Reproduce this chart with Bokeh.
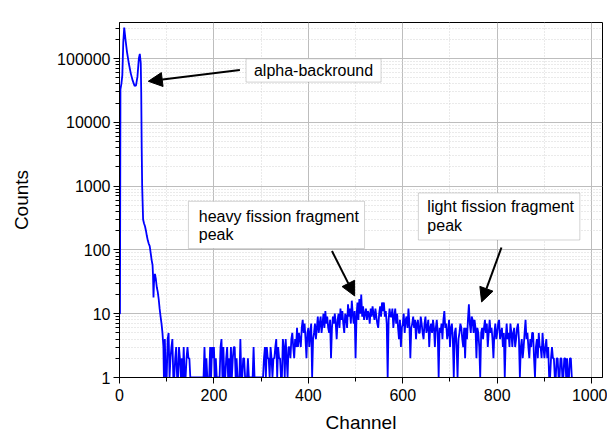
from bokeh.plotting import figure
from bokeh.models import (Range1d, FixedTicker, PrintfTickFormatter, BoxAnnotation,
                          Label, Arrow, NormalHead)
from bokeh.embed import file_html
from bokeh.resources import INLINE

# ---- data ----
peak_channels = [0, 1, 2, 4, 6, 8, 10, 13, 16, 20, 24, 28, 32, 35, 38, 41, 43, 45, 46, 47,
                 48, 50, 52, 54, 56, 58, 60, 62, 64, 66, 68, 70, 71, 72, 73, 75, 77, 79,
                 81, 83, 85, 87, 89, 91, 93, 94]
peak_counts = [10, 10, 33000, 40000, 55000, 180000, 305000, 190000, 125000, 82000, 58000,
               45000, 37000, 38000, 52000, 100000, 118000, 85000, 30000, 4000,
               1000, 300, 260, 235, 200, 165, 140, 125, 115, 90, 70, 58, 40, 18, 30, 42,
               35, 26, 22, 17, 12, 9, 7, 5, 3, 1]

tail_first_channel = 96
tail_channel_step = 2
tail_counts = [
    4, 1, 1, 4, 5, 1, 2, 3, 4, 1, 1, 2, 3, 1, 1, 3, 2, 1, 2, 1,
    3, 1, 1, 2, 3, 2, 2, 1, 1, 1, 1, 1, 1, 1, 1, 1, 1, 1, 1, 1,
    1, 1, 3, 1, 2, 1, 1, 1, 3, 1, 3, 2, 3, 1, 2, 1, 1, 1, 1, 3,
    4, 1, 3, 1, 1, 2, 3, 1, 2, 1, 3, 1, 2, 3, 3, 1, 2, 1, 1, 1,
    4, 1, 1, 2, 2, 1, 1, 1, 2, 1, 1, 1, 1, 1, 3, 1, 1, 1, 1, 1,
    1, 1, 1, 1, 1, 2, 3, 1, 3, 2, 2, 1, 3, 2, 1, 2, 2, 3, 4, 1,
    3, 2, 2, 1, 1, 4, 3, 1, 4, 2, 1, 3, 3, 2, 4, 5, 3, 2, 4, 3,
    6, 3, 5, 4, 3, 6, 8, 5, 7, 4, 2, 5, 6, 3, 5, 7, 1, 4, 5, 7,
    4, 6, 9, 5, 7, 9, 5, 7, 10, 6, 11, 7, 9, 6, 5, 8, 2, 6, 9, 7,
    10, 7, 4, 8, 10, 6, 12, 8, 11, 7, 5, 10, 9, 6, 14, 9, 12, 7, 16, 10,
    7, 11, 2, 9, 15, 8, 17, 10, 20, 9, 13, 8, 10, 12, 8, 11, 10, 7, 12, 9,
    13, 10, 8, 12, 9, 7, 6, 10, 13, 9, 15, 11, 15, 9, 11, 7, 1, 8, 12, 9,
    9, 12, 6, 9, 12, 7, 10, 6, 4, 8, 3, 6, 7, 10, 5, 8, 9, 6, 12, 7,
    2, 6, 7, 9, 6, 8, 4, 7, 8, 5, 5, 9, 7, 5, 4, 7, 9, 5, 6, 8,
    3, 6, 7, 5, 8, 6, 3, 6, 8, 5, 1, 6, 5, 7, 4, 8, 11, 6, 7, 4,
    5, 8, 3, 6, 7, 4, 1, 5, 6, 3, 1, 4, 5, 7, 6, 4, 3, 6, 2, 6,
    4, 8, 14, 7, 5, 9, 8, 5, 8, 6, 2, 6, 5, 3, 1, 5, 6, 4, 6, 8,
    5, 7, 3, 5, 8, 5, 6, 4, 2, 5, 7, 4, 5, 7, 8, 4, 5, 6, 3, 5,
    1, 4, 7, 4, 5, 3, 7, 5, 3, 5, 6, 3, 4, 6, 7, 4, 1, 3, 4, 2,
    3, 5, 8, 4, 5, 3, 2, 4, 3, 5, 5, 2, 1, 3, 4, 2, 5, 3, 3, 2,
    5, 3, 2, 3, 4, 2, 3, 1, 1, 2, 3, 2, 2, 1, 1, 2, 2, 1, 1, 2,
    2, 1, 1, 2, 2, 1, 2, 1, 1, 2, 2, 1, 1,
]

x_major_ticks = [0, 200, 400, 600, 800, 1000]
x_minor_ticks = [100, 300, 500, 700, 900]
y_major_ticks = [1, 10, 100, 1000, 10000, 100000]
y_minor_ticks = [m * 10 ** k for k in range(6) for m in range(2, 10)]

tail_channels = list(range(tail_first_channel,
                           tail_first_channel + tail_channel_step * len(tail_counts),
                           tail_channel_step))
channels = peak_channels + tail_channels
counts = peak_counts + tail_counts

FONT = "Liberation Sans"

p = figure(width=607, height=435, output_backend="svg", toolbar_location=None,
           y_axis_type="log",
           x_range=Range1d(0, 1023), y_range=Range1d(1, 3.67e5),
           min_border_left=119, min_border_right=5, min_border_top=22,
           min_border_bottom=56)

p.outline_line_color = "black"
p.outline_line_width = 1
p.background_fill_color = "white"
p.border_fill_color = "white"

p.line(channels, counts, line_color="#0000ff", line_width=1.8)

# axes
p.xaxis.ticker = FixedTicker(ticks=x_major_ticks, minor_ticks=x_minor_ticks)
p.yaxis.ticker = FixedTicker(ticks=y_major_ticks, minor_ticks=y_minor_ticks)
p.yaxis.formatter = PrintfTickFormatter(format="%d")
for ax in (p.xaxis[0], p.yaxis[0]):
    ax.major_label_text_font = FONT
    ax.major_label_text_font_size = "16px"
    ax.major_label_text_color = "black"
    ax.axis_label_text_font = FONT
    ax.axis_label_text_font_size = "19px"
    ax.axis_label_text_font_style = "normal"
    ax.axis_label_text_color = "black"
    ax.axis_line_color = "black"
    ax.major_tick_line_color = "black"
    ax.minor_tick_line_color = "black"
    ax.major_tick_out = 6
    ax.major_tick_in = 0
    ax.minor_tick_out = 4
    ax.minor_tick_in = 0
p.xaxis.axis_label = "Channel"
p.yaxis.axis_label = "Counts"
p.xaxis.major_label_standoff = 5
p.yaxis.major_label_standoff = 3
p.xaxis.axis_label_standoff = 8
p.yaxis.axis_label_standoff = 22

# grids
for g in (p.xgrid[0], p.ygrid[0]):
    g.grid_line_color = "#bdbdbd"
    g.grid_line_width = 1
    g.minor_grid_line_color = "#d4d4d4"
    g.minor_grid_line_dash = "1 2"
    g.minor_grid_line_width = 1

# annotations
def add_box(left, right, bottom, top):
    p.add_layout(BoxAnnotation(left=left, right=right, bottom=bottom, top=top,
                               fill_color="white", fill_alpha=1.0,
                               line_color="#6e6e6e", line_width=1, level="overlay"))

def add_text(x, y, txt, align="left"):
    p.add_layout(Label(x=x, y=y, text=txt, text_font=FONT, text_font_size="16px",
                       text_color="black", text_align=align, text_baseline="middle",
                       level="overlay"))

def add_arrow(x0, y0, x1, y1):
    p.add_layout(Arrow(x_start=x0, y_start=y0, x_end=x1, y_end=y1,
                       line_color="black", line_width=2,
                       end=NormalHead(size=14, fill_color="black", line_color="black")))

add_arrow(255, 66000, 61, 44000)
add_box(268, 554, 42700, 98900)
add_text(411, 65000, "alpha-backround", align="center")

add_arrow(450, 96, 498, 19)
add_box(146, 519, 105, 578)
add_text(168, 337, "heavy fission fragment")
add_text(168, 175, "peak")

add_arrow(809, 109, 767, 15.3)
add_box(633, 975, 143, 781)
add_text(652, 473, "light fission fragment")
add_text(652, 242, "peak")

open("out.html", "w").write(file_html(p, INLINE))
